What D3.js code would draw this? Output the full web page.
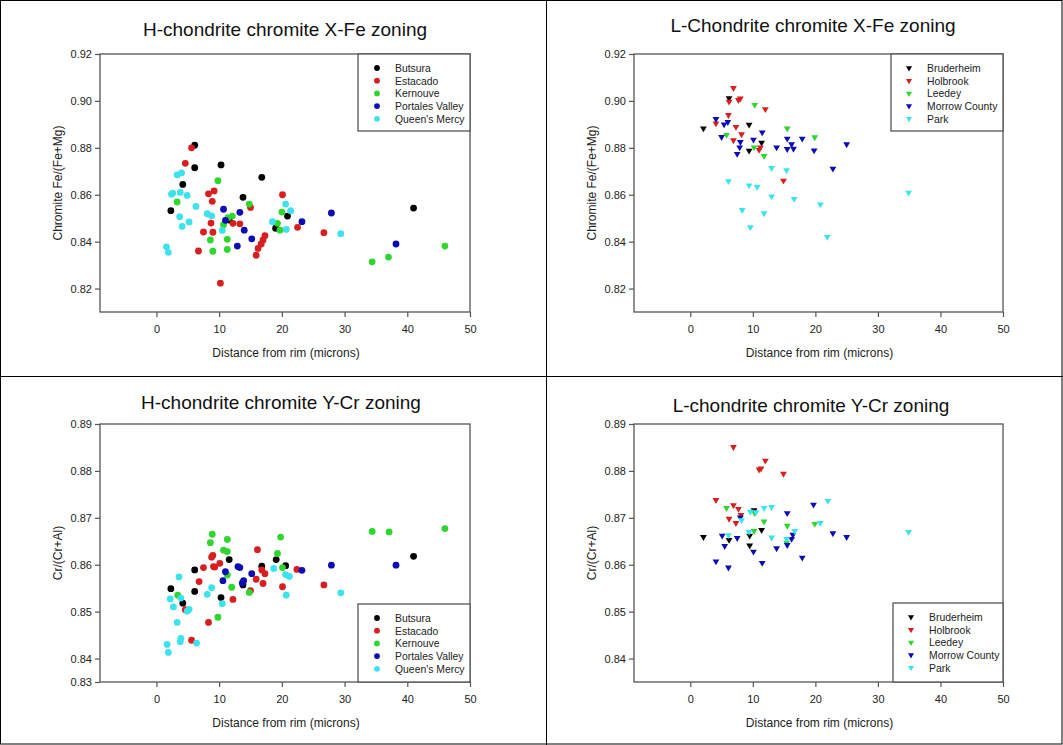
<!DOCTYPE html>
<html><head><meta charset="utf-8">
<script src="https://cdn.jsdelivr.net/npm/d3@7"></script>
<style>body{margin:0;background:#fff;}svg{display:block;font-family:"Liberation Sans",Arial,sans-serif;}</style>
</head><body><svg id="c" width="1063" height="745"></svg>
<script>
// ---------- data ----------
const hSeries = ["Butsura","Estacado","Kernouve","Portales Valley","Queen's Mercy"];
const lSeries = ["Bruderheim","Holbrook","Leedey","Morrow County","Park"];
const seriesColors = ["#000000","#d81e1e","#2ed62e","#0c0cb4","#3de2ee"];

const xTicks = [0,10,20,30,40,50];
const yTicksXFe = [0.82,0.84,0.86,0.88,0.90,0.92];
const yTicksYCr = [0.835,0.84,0.85,0.86,0.87,0.88,0.89];
const yTickLabelsHYCr = ["0.83","0.84","0.85","0.86","0.87","0.88","0.89"];
const yTicksYCrL = [0.84,0.85,0.86,0.87,0.88,0.89];

// H-chondrite X-Fe  [distance, Fe/(Fe+Mg)]
const hXFe_Butsura = [[6.1,0.8811],[6.1,0.8715],[10.3,0.8727],[4.2,0.8644],[16.8,0.8674],[13.8,0.8589],[2.3,0.8532],[11.6,0.8492],[20.9,0.8509],[19.0,0.8457],[41.0,0.8543]];
const hXFe_Estacado = [[5.6,0.880],[4.6,0.8734],[8.3,0.8604],[9.2,0.8616],[8.9,0.8572],[20.1,0.860],[15.0,0.8546],[8.7,0.8479],[12.2,0.8478],[13.3,0.8476],[7.5,0.8441],[9.0,0.8440],[6.7,0.8360],[17.3,0.8425],[17.0,0.8407],[16.7,0.8390],[16.2,0.8371],[15.9,0.8342],[10.2,0.8223],[22.5,0.8461],[26.7,0.8438]];
const hXFe_Kernouve = [[9.8,0.866],[3.3,0.8569],[14.8,0.856],[20.0,0.8526],[11.4,0.8502],[12.1,0.8509],[10.7,0.8472],[8.6,0.8407],[11.3,0.8410],[11.3,0.8367],[9.0,0.8359],[19.3,0.8478],[19.7,0.8449],[46.0,0.8381],[34.4,0.8314],[37.0,0.8334]];
const hXFe_Portales = [[10.7,0.8538],[11.0,0.8491],[13.3,0.8525],[14.0,0.8449],[15.2,0.8412],[12.9,0.8381],[23.2,0.8485],[27.9,0.8522],[38.2,0.8390]];
const hXFe_Queens = [[3.3,0.8685],[4.0,0.8693],[2.4,0.8602],[2.6,0.8607],[3.8,0.8610],[4.9,0.8597],[20.6,0.856],[6.3,0.8550],[21.4,0.8532],[8.1,0.8519],[8.8,0.8510],[3.7,0.8506],[5.2,0.8484],[4.1,0.8465],[10.5,0.8448],[1.6,0.8378],[1.9,0.8354],[18.5,0.8485],[20.7,0.8452],[29.4,0.8434]];

// L-chondrite X-Fe
const lXFe_Bruderheim = [[6.2,0.9011],[2.1,0.8883],[9.4,0.8899],[11.4,0.8822],[9.4,0.8788]];
const lXFe_Holbrook = [[6.9,0.9055],[6.2,0.8997],[7.7,0.9004],[8.0,0.9010],[12.0,0.8965],[6.1,0.894],[4.1,0.8904],[7.3,0.8889],[8.2,0.8858],[6.9,0.8832],[11.0,0.8791],[11.2,0.8802],[14.9,0.8660]];
const lXFe_Leedey = [[10.3,0.8983],[15.5,0.8882],[19.9,0.8845],[5.8,0.8855],[10.2,0.8802],[11.8,0.8765]];
const lXFe_Morrow = [[4.1,0.8923],[5.4,0.8900],[6.0,0.8910],[11.5,0.8866],[17.9,0.8839],[5.0,0.8846],[8.0,0.8825],[10.1,0.8835],[7.9,0.8802],[7.5,0.8774],[13.8,0.8802],[15.5,0.8839],[15.5,0.8795],[16.2,0.8815],[16.5,0.8796],[19.8,0.8789],[25.0,0.8815],[22.8,0.8711]];
const lXFe_Park = [[13.0,0.8714],[15.4,0.8704],[6.1,0.8658],[9.4,0.8640],[10.7,0.8634],[13.0,0.8593],[16.6,0.8582],[20.8,0.8559],[8.3,0.8535],[11.8,0.8521],[9.6,0.8461],[21.9,0.8420],[34.9,0.8609]];

// H-chondrite Y-Cr  [distance, Cr/(Cr+Al)]
const hYCr_Butsura = [[11.6,0.8611],[19.1,0.8611],[6.1,0.8589],[16.8,0.8597],[20.6,0.8598],[13.8,0.8557],[2.3,0.8549],[6.1,0.8543],[10.3,0.8530],[4.2,0.8518],[41.0,0.8618]];
const hYCr_Estacado = [[8.8,0.8616],[9.0,0.8620],[16.1,0.8632],[7.5,0.8594],[9.1,0.8596],[9.3,0.8595],[10.1,0.8603],[16.8,0.8589],[17.3,0.8581],[22.4,0.8590],[6.8,0.8564],[15.9,0.8569],[17.0,0.8560],[15.0,0.8545],[20.1,0.8553],[12.2,0.8526],[4.6,0.8504],[8.3,0.8477],[5.6,0.8439],[26.7,0.8557]];
const hYCr_Kernouve = [[8.9,0.8665],[8.6,0.8647],[11.3,0.8654],[19.8,0.8659],[10.7,0.8631],[11.3,0.8628],[19.3,0.8624],[20.1,0.8594],[11.3,0.8578],[12.0,0.8552],[3.4,0.8535],[14.8,0.8541],[9.8,0.8488],[34.4,0.8671],[37.1,0.8670],[46.0,0.8677]];
const hYCr_Portales = [[13.0,0.8596],[13.3,0.8594],[23.2,0.8588],[11.0,0.8585],[15.2,0.8581],[10.6,0.8566],[13.9,0.8566],[13.7,0.8561],[27.9,0.8599],[38.2,0.8599]];
const hYCr_Queens = [[18.7,0.8592],[3.6,0.8574],[20.6,0.8579],[21.2,0.8575],[8.8,0.8551],[8.1,0.8537],[3.9,0.8529],[2.2,0.8527],[20.7,0.8535],[10.5,0.8517],[2.7,0.8510],[4.9,0.8501],[5.2,0.8505],[3.3,0.8477],[3.9,0.8443],[3.8,0.8436],[6.4,0.8433],[1.7,0.8430],[1.9,0.8413],[29.4,0.8540]];

// L-chondrite Y-Cr
const lYCr_Bruderheim = [[10.2,0.8716],[2.1,0.8659],[6.2,0.8653],[9.5,0.8662],[11.4,0.8674],[9.5,0.8641]];
const lYCr_Holbrook = [[6.9,0.8851],[12.0,0.8822],[11.0,0.8803],[11.3,0.8805],[14.9,0.8794],[4.1,0.8738],[6.9,0.8727],[7.7,0.8719],[8.1,0.8706],[6.2,0.8698],[7.3,0.8689]];
const lYCr_Leedey = [[5.8,0.8721],[10.3,0.8710],[11.8,0.8692],[15.5,0.8683],[19.9,0.8687],[10.2,0.8672],[15.4,0.8647]];
const lYCr_Morrow = [[8.0,0.8701],[15.5,0.8710],[19.7,0.8728],[5.1,0.8662],[7.5,0.8657],[5.5,0.8640],[16.4,0.8664],[16.2,0.8655],[15.5,0.8642],[10.1,0.8628],[13.8,0.8635],[17.9,0.8615],[4.1,0.8607],[6.1,0.8594],[11.5,0.8604],[22.8,0.8667],[25.0,0.8659]];
const lYCr_Park = [[8.2,0.8695],[9.6,0.8713],[10.5,0.8712],[11.8,0.8721],[13.0,0.8723],[20.8,0.8689],[22.0,0.8736],[6.1,0.8663],[9.4,0.8670],[13.0,0.8658],[15.4,0.8655],[16.7,0.8672],[34.9,0.8670]];

// ---------- drawing ----------
const svg = d3.select("#c");
const W = 1063, H = 745;

// table grid
const grid = svg.append("g").attr("stroke","#000").attr("stroke-width",1).attr("fill","none");
grid.append("rect").attr("x",0.5).attr("y",0.5).attr("width",W-1.5).attr("height",H-1.5);
grid.append("line").attr("x1",546.5).attr("x2",546.5).attr("y1",0).attr("y2",H);
grid.append("line").attr("x1",0).attr("x2",W).attr("y1",376.5).attr("y2",376.5);

function panel(cfg){
  const g = svg.append("g");
  const x = d3.scaleLinear().domain([-9,50]).range([cfg.x0,cfg.x1]);
  const y = d3.scaleLinear().domain(cfg.yDomain).range([cfg.y1,cfg.y0]);
  // frame
  g.append("rect").attr("x",cfg.x0).attr("y",cfg.y0).attr("width",cfg.x1-cfg.x0).attr("height",cfg.y1-cfg.y0)
    .attr("fill","none").attr("stroke","#555").attr("stroke-width",1.3);
  // axes
  const ax = d3.axisBottom(x).tickValues(xTicks).tickSize(5).tickSizeOuter(0).tickFormat(d3.format("d"));
  const gx = g.append("g").attr("transform",`translate(0,${cfg.y1})`).call(ax);
  gx.select(".domain").remove();
  gx.selectAll("line").attr("stroke","#555").attr("stroke-width",1.2);
  gx.selectAll("text").attr("font-size",11).attr("fill","#222").attr("dy","1.2em");
  const ay = d3.axisLeft(y).tickValues(cfg.yTicks).tickSize(5).tickSizeOuter(0)
    .tickFormat((d,i)=> cfg.yLabels ? cfg.yLabels[i] : d3.format(".2f")(d));
  const gy = g.append("g").attr("transform",`translate(${cfg.x0},0)`).call(ay);
  gy.select(".domain").remove();
  gy.selectAll("line").attr("stroke","#555").attr("stroke-width",1.2);
  gy.selectAll("text").attr("font-size",11).attr("fill","#222").attr("x",-8);
  // titles
  g.append("text").attr("x",cfg.tx).attr("y",cfg.ty).attr("text-anchor","middle").attr("font-size",19).attr("fill","#111").text(cfg.title);
  g.append("text").attr("x",(cfg.x0+cfg.x1)/2+1).attr("y",cfg.y1+45).attr("text-anchor","middle").attr("font-size",12).attr("fill","#222").text("Distance from rim (microns)");
  g.append("text").attr("transform",`translate(${cfg.x0-38},${(cfg.y0+cfg.y1)/2}) rotate(-90)`).attr("text-anchor","middle").attr("font-size",12).attr("fill","#222").text(cfg.ylabel);
  // points
  const sym = cfg.tri ? d3.symbol().type(d3.symbolTriangle).size(20) : null;
  cfg.series.forEach((s,i)=>{
    const sg = g.append("g").attr("fill",seriesColors[i]);
    if(cfg.tri){
      sg.selectAll("path").data(s).join("path").attr("d",sym)
        .attr("transform",d=>`translate(${x(d[0])},${y(d[1])}) rotate(180)`);
    } else {
      sg.selectAll("circle").data(s).join("circle").attr("cx",d=>x(d[0])).attr("cy",d=>y(d[1])).attr("r",3.4);
    }
  });
  // legend
  const L = cfg.legend;
  g.append("rect").attr("x",L.x).attr("y",L.y).attr("width",cfg.x1-L.x).attr("height",L.h)
    .attr("fill","#fff").attr("stroke","#555").attr("stroke-width",1.3);
  cfg.names.forEach((n,i)=>{
    const yy = L.y + 14 + i*12.7;
    if(cfg.tri){
      g.append("path").attr("d",d3.symbol().type(d3.symbolTriangle).size(16)).attr("fill",seriesColors[i])
        .attr("transform",`translate(${L.x+L.mx},${yy}) rotate(180)`);
    } else {
      g.append("circle").attr("cx",L.x+L.mx).attr("cy",yy).attr("r",2.9).attr("fill",seriesColors[i]);
    }
    g.append("text").attr("x",L.x+L.tx).attr("y",yy+4).attr("font-size",10.4).attr("fill","#222").text(n);
  });
}

panel({x0:100,x1:470,y0:54,y1:312,yDomain:[0.81,0.92],yTicks:yTicksXFe,
  title:"H-chondrite chromite X-Fe zoning",tx:285,ty:36,ylabel:"Chromite Fe/(Fe+Mg)",
  series:[hXFe_Butsura,hXFe_Estacado,hXFe_Kernouve,hXFe_Portales,hXFe_Queens],names:hSeries,tri:false,
  legend:{x:358,y:54,h:77,mx:19,tx:37}});
panel({x0:634,x1:1003,y0:54,y1:312,yDomain:[0.81,0.92],yTicks:yTicksXFe,
  title:"L-Chondrite chromite X-Fe zoning",tx:813,ty:32,ylabel:"Chromite Fe/(Fe+Mg)",
  series:[lXFe_Bruderheim,lXFe_Holbrook,lXFe_Leedey,lXFe_Morrow,lXFe_Park],names:lSeries,tri:true,
  legend:{x:891,y:54,h:77,mx:18,tx:36}});
panel({x0:100,x1:470,y0:424,y1:682,yDomain:[0.835,0.89],yTicks:yTicksYCr,yLabels:yTickLabelsHYCr,
  title:"H-chondrite chromite Y-Cr zoning",tx:281,ty:409,ylabel:"Cr/(Cr+Al)",
  series:[hYCr_Butsura,hYCr_Estacado,hYCr_Kernouve,hYCr_Portales,hYCr_Queens],names:hSeries,tri:false,
  legend:{x:358,y:604,h:78,mx:19,tx:37}});
panel({x0:634,x1:1003,y0:424,y1:682,yDomain:[0.835,0.89],yTicks:yTicksYCrL,
  title:"L-chondrite chromite Y-Cr zoning",tx:811,ty:412,ylabel:"Cr/(Cr+Al)",
  series:[lYCr_Bruderheim,lYCr_Holbrook,lYCr_Leedey,lYCr_Morrow,lYCr_Park],names:lSeries,tri:true,
  legend:{x:893,y:603,h:79,mx:18,tx:36}});
</script></body></html>
